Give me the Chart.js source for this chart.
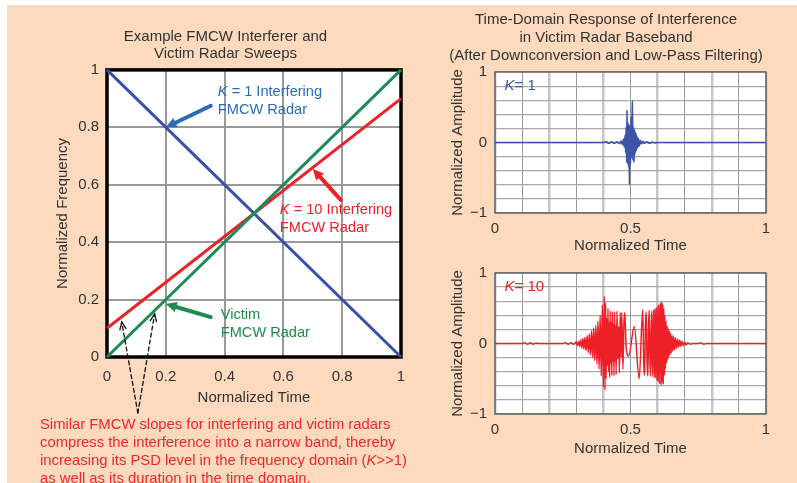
<!DOCTYPE html>
<html>
<head>
<meta charset="utf-8">
<script src="https://cdn.jsdelivr.net/npm/chart.js@4.4.1/dist/chart.umd.min.js"></script>
<style>
  html, body { margin: 0; padding: 0; background: #ffffff; }
  #page { position: relative; width: 797px; height: 483px; overflow: hidden; }
  #panel { position: absolute; left: 7px; top: 5px; right: 0; bottom: 0; background: #fdd9bd; }
  canvas { position: absolute; }
  #sweeps { left: 0; top: 0; }
  #respK1 { left: 430px; top: 0; }
  #respK10 { left: 430px; top: 256px; }
  #note {
    position: absolute; left: 40px; top: 415px;
    font: 14.8px "Liberation Sans", Arial, Helvetica, sans-serif;
    color: #ec2a2a; line-height: 18px; white-space: nowrap;
  }
</style>
</head>
<body>
<div id="page">
  <div id="panel"></div>
  <canvas id="sweeps" width="430" height="483"></canvas>
  <canvas id="respK1" width="367" height="256"></canvas>
  <canvas id="respK10" width="367" height="227"></canvas>
  <div id="note">Similar FMCW slopes for interfering and victim radars<br>compress the interference into a narrow band, thereby<br>increasing its PSD level in the frequency domain (<i>K</i>&gt;&gt;1)<br>as well as its duration in the time domain.</div>
</div>
<script>
// ---- Sweep lines (normalized time vs normalized frequency) ----
const sweepTime   = [0, 1];
const victimFreq  = [0, 1];
const k10Freq     = [0.1, 0.9];
const k1Freq      = [1, 0];
const sweepTicks  = [0, 0.2, 0.4, 0.6, 0.8, 1];

// ---- Baseband interference, [normalized time, normalized amplitude] ----
const k1Samples = [
  [0, 0], [0.40, 0], [0.41, 0.01], [0.42, -0.01], [0.43, 0.01], [0.44, -0.01], [0.45, 0.01], [0.46, -0.015],
  [0.465, 0.02], [0.470, -0.03], [0.474, 0.05], [0.477, -0.06], [0.480, 0.10], [0.482, -0.14], [0.484, 0.22],
  [0.486, -0.28], [0.487, 0.46], [0.489, -0.30], [0.491, 0.28], [0.493, -0.35], [0.495, 0.25], [0.496, -0.60],
  [0.498, 0.22], [0.500, -0.30], [0.502, 0.36], [0.504, -0.22], [0.506, 0.30], [0.507, 0.59], [0.509, -0.25],
  [0.511, 0.22], [0.513, -0.28], [0.515, 0.18], [0.517, -0.16], [0.519, 0.14], [0.521, -0.12], [0.523, 0.10],
  [0.526, -0.08], [0.529, 0.06], [0.532, -0.05], [0.536, 0.03], [0.540, -0.02], [0.545, 0.015], [0.55, -0.01],
  [0.56, 0.01], [0.57, -0.01], [0.58, 0.005], [0.59, -0.005], [0.60, 0], [1, 0]
];

const k10Samples = [
  [0, 0], [0.10, 0], [0.11, 0.01], [0.12, -0.01], [0.13, 0.01], [0.14, -0.01], [0.15, 0.005], [0.16, 0],
  [0.25, 0], [0.26, 0.01], [0.27, -0.01], [0.28, 0.01], [0.29, -0.01],
  [0.300, 0.02], [0.304, -0.03], [0.308, 0.03], [0.312, -0.04], [0.316, 0.05], [0.320, -0.06], [0.324, 0.07],
  [0.328, -0.08], [0.332, 0.09], [0.336, -0.10], [0.340, 0.11], [0.344, -0.13], [0.348, 0.14], [0.352, -0.16],
  [0.356, 0.18], [0.360, -0.20], [0.364, 0.22], [0.368, -0.24], [0.372, 0.26], [0.376, -0.29], [0.380, 0.32],
  [0.384, -0.36], [0.388, 0.40], [0.392, -0.46], [0.396, 0.55], [0.400, -0.62], [0.403, 0.67], [0.406, -0.66],
  [0.408, 0.58], [0.410, -0.50], [0.412, 0.36], [0.414, -0.32], [0.417, 0.50], [0.419, -0.40], [0.421, 0.30],
  [0.423, -0.48], [0.425, 0.46], [0.427, -0.28], [0.429, 0.30], [0.431, -0.45], [0.433, 0.45], [0.435, -0.26],
  [0.437, 0.28], [0.439, -0.46], [0.441, 0.45], [0.443, -0.25], [0.445, 0.26], [0.447, -0.44], [0.450, 0.46],
  [0.453, -0.22], [0.456, 0.24], [0.459, -0.42], [0.462, 0.44], [0.465, -0.20], [0.468, 0.44], [0.472, -0.36],
  [0.476, 0.30], [0.479, 0.44], [0.484, -0.05], [0.493, -0.18], [0.514, 0.24], [0.532, -0.50], [0.545, 0.48],
  [0.549, -0.30], [0.552, -0.45], [0.555, 0.25], [0.558, 0.45], [0.561, -0.25], [0.564, -0.46], [0.567, 0.28],
  [0.569, 0.47], [0.572, -0.28], [0.574, -0.46], [0.577, 0.30], [0.579, 0.46], [0.581, -0.30], [0.583, -0.47],
  [0.585, 0.32], [0.587, 0.48], [0.589, -0.34], [0.591, -0.48], [0.593, 0.36], [0.595, 0.50], [0.597, -0.40],
  [0.599, -0.52], [0.601, 0.45], [0.603, 0.54], [0.605, -0.50], [0.607, -0.56], [0.609, 0.52], [0.611, 0.57],
  [0.613, -0.59], [0.615, 0.59], [0.617, -0.55], [0.619, 0.56], [0.621, -0.58], [0.623, 0.50], [0.625, -0.45],
  [0.627, 0.40], [0.629, -0.36], [0.631, 0.32], [0.633, -0.28], [0.635, 0.25], [0.637, -0.23], [0.639, 0.21],
  [0.641, -0.19], [0.643, 0.18], [0.645, -0.16], [0.647, 0.15], [0.650, -0.14], [0.653, 0.12], [0.656, -0.11],
  [0.659, 0.10], [0.662, -0.09], [0.666, 0.08], [0.670, -0.07], [0.674, 0.06], [0.678, -0.05], [0.682, 0.05],
  [0.686, -0.04], [0.690, 0.03], [0.695, -0.03], [0.700, 0.02], [0.705, -0.02], [0.712, 0.01], [0.720, -0.01],
  [0.73, 0], [0.75, 0], [0.76, 0.01], [0.77, -0.01], [0.78, 0], [1, 0]
];

const FONT = '"Liberation Sans", Arial, Helvetica, sans-serif';
Chart.defaults.font.family = FONT;
Chart.defaults.color = '#333333';

const near = (a, b) => Math.abs(a - b) < 1e-9;
const fmtSweep = v => near(v, 0) ? '0' : near(v, 1) ? '1' : v.toFixed(1);

// Draws a run of text pieces, some of them italic, starting at (x, y).
function richText(ctx, pieces, x, y, size, color) {
  ctx.save();
  ctx.fillStyle = color;
  ctx.textBaseline = 'middle';
  ctx.textAlign = 'left';
  let cx = x;
  for (const p of pieces) {
    ctx.font = (p.i ? 'italic ' : '') + size + 'px ' + FONT;
    ctx.fillText(p.t, cx, y);
    cx += ctx.measureText(p.t).width;
  }
  ctx.restore();
}

function arrow(ctx, x0, y0, x1, y1, o) {
  const ang = Math.atan2(y1 - y0, x1 - x0);
  ctx.save();
  ctx.strokeStyle = o.color;
  ctx.fillStyle = o.color;
  ctx.lineWidth = o.width;
  ctx.lineCap = 'round';
  ctx.setLineDash(o.dash || []);
  const stop = o.open ? 0 : o.head * 0.7;
  ctx.beginPath();
  ctx.moveTo(x0, y0);
  ctx.lineTo(x1 - Math.cos(ang) * stop, y1 - Math.sin(ang) * stop);
  ctx.stroke();
  ctx.setLineDash([]);
  const a1 = ang + Math.PI - o.spread, a2 = ang + Math.PI + o.spread;
  ctx.beginPath();
  ctx.moveTo(x1 + Math.cos(a1) * o.head, y1 + Math.sin(a1) * o.head);
  ctx.lineTo(x1, y1);
  ctx.lineTo(x1 + Math.cos(a2) * o.head, y1 + Math.sin(a2) * o.head);
  if (o.open) { ctx.lineWidth = o.width; ctx.stroke(); }
  else { ctx.closePath(); ctx.fill(); }
  ctx.restore();
}

// White plot background and a frame around each plot.
const plotBackground = {
  id: 'plotBackground',
  beforeDraw(chart) {
    const { ctx, chartArea: a } = chart;
    ctx.save();
    ctx.fillStyle = '#ffffff';
    ctx.fillRect(a.left, a.top, a.right - a.left, a.bottom - a.top);
    ctx.restore();
  }
};

const plotFrame = {
  id: 'plotFrame',
  beforeDatasetsDraw(chart, args, opts) {
    const { ctx, chartArea: a } = chart;
    ctx.save();
    ctx.strokeStyle = opts.color;
    ctx.lineWidth = opts.width;
    ctx.strokeRect(a.left, a.top, a.right - a.left, a.bottom - a.top);
    ctx.restore();
  }
};

// Callouts naming each sweep, positioned in data units.
const sweepCallouts = [
  { color: '#2a6cb9', arrow: '#2a6cb9', at: [0.377, 0.923], tail: [0.353, 0.875], tip: [0.2, 0.8],
    lines: [[{ t: 'K', i: true }, { t: ' = 1 Interfering' }], [{ t: 'FMCW Radar' }]] },
  { color: '#ec2227', arrow: '#ec2227', at: [0.588, 0.512], tail: [0.795, 0.547], tip: [0.70, 0.655],
    lines: [[{ t: 'K', i: true }, { t: ' = 10 Interfering' }], [{ t: 'FMCW Radar' }]] },
  { color: '#1f8a4c', arrow: '#1f8a4c', at: [0.387, 0.146], tail: [0.353, 0.139], tip: [0.2, 0.185],
    lines: [[{ t: 'Victim' }], [{ t: 'FMCW Radar' }]] }
];
const slopeNoteOrigin = [0.105, -0.195];
const slopeNoteTips = [[0.050, 0.122], [0.162, 0.150]];

const sweepNotes = {
  id: 'sweepNotes',
  afterDatasetsDraw(chart) {
    const { ctx, scales: { x, y } } = chart;
    for (const c of sweepCallouts) {
      arrow(ctx, x.getPixelForValue(c.tail[0]), y.getPixelForValue(c.tail[1]),
            x.getPixelForValue(c.tip[0]), y.getPixelForValue(c.tip[1]),
            { color: c.arrow, width: 4, head: 12, spread: 0.45 });
      const tx = x.getPixelForValue(c.at[0]);
      let ty = y.getPixelForValue(c.at[1]);
      for (const line of c.lines) {
        richText(ctx, line, tx, ty, 14.6, c.color);
        ty += 18;
      }
    }
    const ox = x.getPixelForValue(slopeNoteOrigin[0]), oy = y.getPixelForValue(slopeNoteOrigin[1]);
    for (const t of slopeNoteTips) {
      arrow(ctx, ox, oy, x.getPixelForValue(t[0]), y.getPixelForValue(t[1]),
            { color: '#111111', width: 1.3, head: 8, spread: 0.4, dash: [4, 3], open: true });
    }
  }
};

const toPoints = (xs, ys) => xs.map((t, i) => ({ x: t, y: ys[i] }));
const sweepLine = (xs, ys, color) => ({
  data: toPoints(xs, ys), showLine: true, borderColor: color, borderWidth: 3,
  pointRadius: 0, fill: false, clip: 4
});

new Chart(document.getElementById('sweeps'), {
  type: 'scatter',
  data: {
    datasets: [
      sweepLine(sweepTime, victimFreq, '#1d8b55'),
      sweepLine(sweepTime, k10Freq, '#ec2227'),
      sweepLine(sweepTime, k1Freq, '#3b4fa6')
    ]
  },
  options: {
    responsive: false,
    animation: false,
    events: [],
    layout: { padding: { left: 50, right: 29, top: 20, bottom: 76 } },
    plugins: {
      legend: { display: false },
      tooltip: { enabled: false },
      title: {
        display: true,
        text: ['Example FMCW Interferer and', 'Victim Radar Sweeps'],
        color: '#333333',
        font: { size: 15, weight: 'normal', lineHeight: 1.13 },
        padding: { top: 8, bottom: 8 }
      },
      plotFrame: { color: '#000000', width: 3.5 }
    },
    scales: {
      x: {
        type: 'linear', min: 0, max: 1,
        afterBuildTicks: s => { s.ticks = sweepTicks.map(v => ({ value: v })); },
        ticks: { autoSkip: false, maxRotation: 0, padding: 11, font: { size: 15 }, color: '#333333', callback: fmtSweep },
        grid: { color: '#999999', lineWidth: 2, drawTicks: false },
        border: { display: false },
        title: { display: true, text: 'Normalized Time', font: { size: 15 }, color: '#333333', padding: 0 },
        afterFit: s => { s.height = 50; }
      },
      y: {
        type: 'linear', min: 0, max: 1,
        afterBuildTicks: s => { s.ticks = sweepTicks.map(v => ({ value: v })); },
        ticks: { autoSkip: false, padding: 8, font: { size: 15 }, color: '#333333', callback: fmtSweep },
        grid: { color: '#999999', lineWidth: 2, drawTicks: false },
        border: { display: false },
        title: { display: true, text: 'Normalized Frequency', font: { size: 15 }, color: '#333333', padding: { top: 4, bottom: 0 } },
        afterFit: s => { s.width = 57; }
      }
    }
  },
  plugins: [plotBackground, plotFrame, sweepNotes]
});

// ---- Baseband response panels ----
const respTimeTicks = [0, 0.1, 0.2, 0.3, 0.4, 0.5, 0.6, 0.7, 0.8, 0.9, 1];
const respAmpTicks = [-1, -0.8, -0.6, -0.4, -0.2, 0, 0.2, 0.4, 0.6, 0.8, 1];
const respTimeLabels = { 0: '0', 0.5: '0.5', 1: '1' };
const respAmpLabels = { '-1': '\u22121', 0: '0', 1: '1' };

const kTag = {
  id: 'kTag',
  afterDatasetsDraw(chart, args, opts) {
    const { ctx, scales: { x, y } } = chart;
    richText(ctx, [{ t: 'K', i: true }, { t: '= ' + opts.k }],
             x.getPixelForValue(opts.at[0]), y.getPixelForValue(opts.at[1]), 15, opts.color);
  }
};

function responseChart(id, samples, color, k, lineWidth, title, pad, axisH) {
  return new Chart(document.getElementById(id), {
    type: 'scatter',
    data: {
      datasets: [{
        data: samples.map(s => ({ x: s[0], y: s[1] })),
        showLine: true, borderColor: color, borderWidth: lineWidth,
        pointRadius: 0, fill: false, cubicInterpolationMode: 'monotone'
      }]
    },
    options: {
      responsive: false,
      animation: false,
      events: [],
      layout: { padding: pad },
      plugins: {
        legend: { display: false },
        tooltip: { enabled: false },
        title: title ? {
          display: true, text: title, color: '#333333',
          font: { size: 15, weight: 'normal', lineHeight: 1.2 },
          padding: { top: 5, bottom: 7 }
        } : { display: false },
        plotFrame: { color: '#555555', width: 1.3 },
        kTag: { k: k, color: color, at: [0.035, 0.8] }
      },
      scales: {
        x: {
          type: 'linear', min: 0, max: 1,
          afterBuildTicks: s => { s.ticks = respTimeTicks.map(v => ({ value: v })); },
          ticks: { autoSkip: false, maxRotation: 0, padding: 7, font: { size: 15 }, color: '#333333',
                   callback: v => respTimeLabels[v] ?? '' },
          grid: {
            drawTicks: false,
            color: c => (Math.round(c.tick.value * 10) % 2 === 0 ? '#c6c6c6' : '#9a9a9a'),
            lineWidth: c => (Math.round(c.tick.value * 10) % 2 === 0 ? 2.5 : 1)
          },
          border: { display: false },
          title: { display: true, text: 'Normalized Time', font: { size: 15 }, color: '#333333', padding: 0 },
          afterFit: s => { s.height = axisH; }
        },
        y: {
          type: 'linear', min: -1, max: 1,
          afterBuildTicks: s => { s.ticks = respAmpTicks.map(v => ({ value: v })); },
          ticks: { autoSkip: false, padding: 8, font: { size: 15 }, color: '#333333',
                   callback: v => respAmpLabels[v] ?? '' },
          grid: { drawTicks: false, color: '#a8a8a8', lineWidth: 1.2 },
          border: { display: false },
          title: { display: true, text: 'Normalized Amplitude', font: { size: 15 }, color: '#333333', padding: { top: 3, bottom: 0 } },
          afterFit: s => { s.width = 49; }
        }
      }
    },
    plugins: [plotBackground, plotFrame, kTag]
  });
}

responseChart('respK1', k1Samples, '#3d55a8', '1', 1.7,
  ['Time-Domain Response of Interference', 'in Victim Radar Baseband', '(After Downconversion and Low-Pass Filtering)'],
  { left: 16, right: 31, top: 6, bottom: 1 }, 42);
responseChart('respK10', k10Samples, '#ee2027', '10', 1.5, null,
  { left: 16, right: 31, top: 16, bottom: 25 }, 44);
</script>
</body>
</html>
